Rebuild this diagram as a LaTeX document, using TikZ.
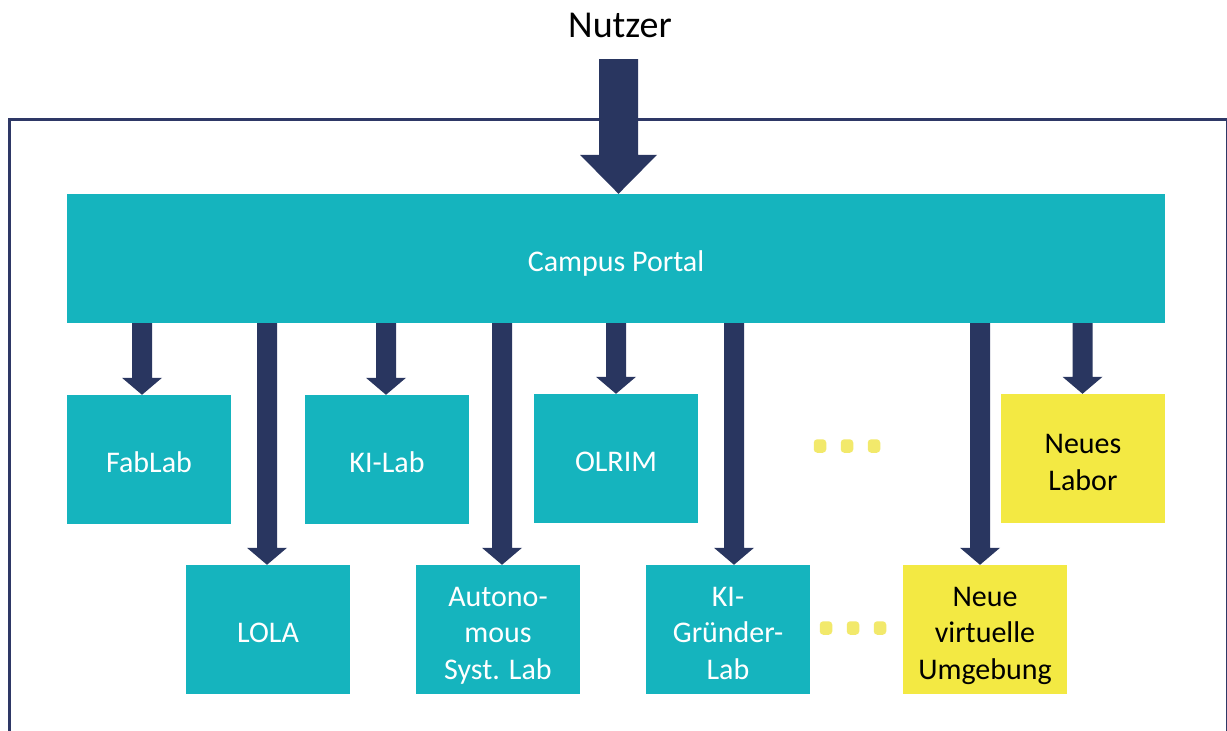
\documentclass[tikz,border=0pt]{standalone}
\usepackage{fontspec}
\setmainfont{Carlito}
\usetikzlibrary{calc}
\definecolor{teal1}{RGB}{21,180,190}
\definecolor{navy1}{RGB}{41,54,96}
\definecolor{frame1}{RGB}{46,56,102}
\definecolor{yel1}{RGB}{243,233,67}
\definecolor{dot1}{RGB}{242,233,107}
\newcommand{\lab}[1]{\raisebox{-6pt}[\height][\depth]{\begin{tabular}{@{}c@{}}#1\end{tabular}}}
\tikzset{
  labbox/.style={rectangle, fill=teal1, text=white, inner sep=0pt,
    minimum width=164pt, minimum height=129pt,
    font=\fontsize{30}{36.5}\selectfont},
  newbox/.style={labbox, fill=yel1, text=black},
  dotbox/.style={rectangle, rounded corners=3.5pt, fill=dot1, inner sep=0pt,
    minimum width=12.5pt, minimum height=13.5pt}
}
% #1 x, #2 from, #3 to, #4 shaft half width, #5 head half width, #6 head length
\newcommand{\blockarrow}[6]{%
  \fill[navy1] let \p2=(#2), \p3=(#3) in
    (#1pt-#4pt,\y2) -- (#1pt+#4pt,\y2) -- (#1pt+#4pt,\y3+#6pt) --
    (#1pt+#5pt,\y3+#6pt) -- (#1pt,\y3) -- (#1pt-#5pt,\y3+#6pt) --
    (#1pt-#4pt,\y3+#6pt) -- cycle;}
\begin{document}
\begin{tikzpicture}[x=1pt,y=-1pt]
\useasboundingbox (0,0) rectangle (1227,731);
\fill[white] (0,0) rectangle (1227,731);
\begin{scope}
  \clip (0,0) rectangle (1227,731);
  \draw[frame1, line width=3.4pt] (9.4,119.6) rectangle (1227.6,800);
\end{scope}
\node[font=\fontsize{38}{44}\selectfont, text=black] (nutzer) at (620,25) {Nutzer};
\coordinate (nutzerfoot) at (618.5,59);
\node[labbox, minimum width=1098pt, minimum height=129pt] (portal) at (616,258.5) {\lab{Campus Portal}};
% row 1
\node[labbox] (fablab) at (149,459.5) {\lab{FabLab}};
\node[labbox] (kilab) at (387,459.5) {\lab{KI-Lab}};
\node[labbox] (olrim) at (616,458.5) {\lab{OLRIM}};
\node[newbox] (labor) at (1083,458.5) {\lab{Neues\\Labor}};
% row 2
\node[labbox] (lola) at (268,629.5) {\lab{LOLA}};
\node[labbox] (autonom) at (498,629.5) {\lab{Autono-\\mous\\Syst. Lab}};
\node[labbox] (kigruender) at (728,629.5) {\lab{KI-\\Gründer-\\Lab}};
\node[newbox] (virtuell) at (985,629.5) {\lab{Neue\\virtuelle\\Umgebung}};
% dots
\node[dotbox] (d1) at (820,446) {};
\node[dotbox] (d2) at (847,446) {};
\node[dotbox] (d3) at (874,446) {};
\node[dotbox] (d4) at (826,628) {};
\node[dotbox] (d5) at (853,628) {};
\node[dotbox] (d6) at (880,628) {};
% arrows
\blockarrow{618.5}{nutzerfoot}{portal.north}{19.5}{38.5}{39}
\blockarrow{142}{portal.south}{fablab.north}{10}{20}{17}
\blockarrow{386}{portal.south}{kilab.north}{10}{20}{17}
\blockarrow{616}{portal.south}{olrim.north}{10}{20}{17}
\blockarrow{1082.5}{portal.south}{labor.north}{10}{20}{17}
\blockarrow{267}{portal.south}{lola.north}{10}{20}{17}
\blockarrow{502}{portal.south}{autonom.north}{10}{20}{17}
\blockarrow{734}{portal.south}{kigruender.north}{10}{20}{17}
\blockarrow{980}{portal.south}{virtuell.north}{10}{20}{17}
\end{tikzpicture}
\end{document}
